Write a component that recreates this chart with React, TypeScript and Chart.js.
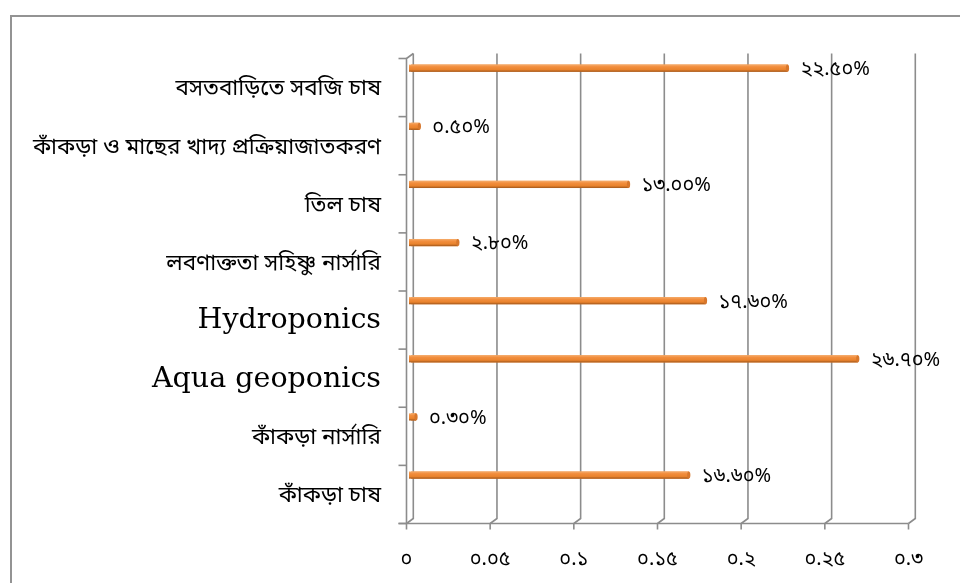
import React, { useEffect, useRef } from 'react';
import { Chart, registerables } from 'chart.js';
Chart.register(...registerables);

const categories = [
  'বসতবাড়িতে সবজি চাষ',
  'কাঁকড়া ও মাছের খাদ্য প্রক্রিয়াজাতকরণ',
  'তিল চাষ',
  'লবণাক্ততা সহিষ্ণু নার্সারি',
  'Hydroponics',
  'Aqua geoponics',
  'কাঁকড়া নার্সারি',
  'কাঁকড়া চাষ',
];
const values = [0.225, 0.005, 0.13, 0.028, 0.176, 0.267, 0.003, 0.166];
const valueLabels = ['২২.৫০%', '০.৫০%', '১৩.০০%', '২.৮০%', '১৭.৬০%', '২৬.৭০%', '০.৩০%', '১৬.৬০%'];
const xTickLabels = ['০', '০.০৫', '০.১', '০.১৫', '০.২', '০.২৫', '০.৩'];
const xMin = 0;
const xMax = 0.3;
const xStep = 0.05;

const BN_FONT = '"Noto Sans Bengali", "Lohit Bengali", "Noto Serif Bengali", Vrinda, serif';
const LATIN_FONT = '"DejaVu Serif", serif';
const FX = -4.5; // front plane x offset
const BX = 2.3; // back plane x offset
const BY = -5; // back plane y offset
const LINE = '#8c8c8c';

const isLatin = (s: string) => /^[A-Za-z ]+$/.test(s);

const framePlugin = {
  id: 'frame3d',
  beforeDatasetsDraw(chart: any) {
    const { ctx, chartArea } = chart;
    const xs = chart.scales.x;
    const top = chartArea.top;
    const bottom = chartArea.bottom;
    ctx.save();
    // outer border
    ctx.strokeStyle = '#939393';
    ctx.lineWidth = 2;
    ctx.strokeRect(11, 16, 1200, 1200);

    ctx.strokeStyle = LINE;
    ctx.lineWidth = 1.6;
    const ticks = xs.ticks;
    ticks.forEach((t: any) => {
      const p = xs.getPixelForValue(t.value);
      ctx.beginPath();
      ctx.moveTo(p + BX, top + BY);
      ctx.lineTo(p + BX, bottom + BY);
      ctx.lineTo(p + FX, bottom);
      ctx.stroke();
    });
    const p0 = xs.getPixelForValue(xMin);
    const pN = xs.getPixelForValue(xMax);
    ctx.beginPath();
    ctx.moveTo(p0 + FX - 8, bottom);
    ctx.lineTo(pN + FX, bottom);
    ctx.stroke();
    ctx.beginPath();
    ctx.moveTo(p0 + FX, bottom);
    ctx.lineTo(p0 + FX, top);
    ctx.lineTo(p0 + BX, top + BY);
    ctx.stroke();
    ticks.forEach((t: any) => {
      const p = xs.getPixelForValue(t.value);
      ctx.beginPath();
      ctx.moveTo(p + FX, bottom);
      ctx.lineTo(p + FX, bottom + 6);
      ctx.stroke();
    });
    const band = (bottom - top) / categories.length;
    for (let i = 0; i <= categories.length; i++) {
      const y = top + i * band;
      ctx.beginPath();
      ctx.moveTo(p0 + FX - 8, y);
      ctx.lineTo(p0 + FX, y);
      ctx.stroke();
    }
    ctx.restore();
  },
  afterDatasetsDraw(chart: any) {
    const { ctx } = chart;
    const meta = chart.getDatasetMeta(0);
    ctx.save();
    meta.data.forEach((el: any, i: number) => {
      const { x, y, base, height } = el.getProps(['x', 'y', 'base', 'height'], true);
      const t = y - height / 2;
      const g = ctx.createLinearGradient(0, t, 0, t + height);
      g.addColorStop(0, '#f5ad6d');
      g.addColorStop(0.3, '#f28e3e');
      g.addColorStop(0.7, '#e9832d');
      g.addColorStop(1, '#a0561b');
      ctx.fillStyle = g;
      ctx.fillRect(base - 2, t, x - base + 2, height);
      ctx.fillStyle = '#d7772c';
      ctx.beginPath();
      ctx.ellipse(x, y, 1.6, height / 2, 0, 0, Math.PI * 2);
      ctx.fill();
      ctx.fillStyle = '#000';
      ctx.font = `20px ${BN_FONT}`;
      ctx.textAlign = 'left';
      ctx.textBaseline = 'middle';
      ctx.fillText(valueLabels[i], x + 13, y + 3);
    });
    ctx.restore();
  },
};

export default function App() {
  const ref = useRef<HTMLCanvasElement | null>(null);
  useEffect(() => {
    if (!ref.current) return;
    const empty = categories.map(() => null);
    const chart = new Chart(ref.current, {
      type: 'bar',
      data: {
        labels: categories,
        datasets: [
          { data: values, backgroundColor: '#ef8b3b', borderWidth: 0 },
          { data: empty as any, backgroundColor: 'rgba(0,0,0,0)' },
          { data: empty as any, backgroundColor: 'rgba(0,0,0,0)' },
        ],
      },
      options: {
        indexAxis: 'y',
        animation: false,
        responsive: false,
        maintainAspectRatio: false,
        layout: { padding: { top: 58.5, right: 47, left: 0, bottom: 0 } },
        datasets: { bar: { categoryPercentage: 1, barPercentage: 0.37 } },
        plugins: { legend: { display: false }, tooltip: { enabled: false } },
        scales: {
          x: {
            type: 'linear',
            min: xMin,
            max: xMax,
            grid: { display: false, drawTicks: false },
            border: { display: false },
            ticks: {
              stepSize: xStep,
              padding: 26,
              labelOffset: FX,
              color: '#000',
              font: { family: BN_FONT, size: 20 },
              callback: (_v: any, i: number) => xTickLabels[i],
            },
            afterFit: (s: any) => { s.height = 59.5; },
          },
          y: {
            type: 'category',
            offset: true,
            grid: { display: false, drawTicks: false },
            border: { display: false },
            ticks: {
              padding: 30,
              labelOffset: 1,
              color: '#000',
              autoSkip: false,
              callback: (_v: any, i: number) => {
                const label = categories[i];
                return isLatin(label) ? label : ['', label];
              },
              font: (c: any) => {
                const label = categories[c.index] || '';
                return isLatin(label)
                  ? { family: LATIN_FONT, size: 28.5 }
                  : { family: BN_FONT, size: 22.5, lineHeight: '5px' };
              },
            },
            afterFit: (s: any) => { s.width = 411; },
          },
        },
      },
      plugins: [framePlugin],
    });
    return () => chart.destroy();
  }, []);
  return (
    <div style={{ position: 'fixed', left: 0, top: 0, width: 960, height: 583, background: '#fff' }}>
      <canvas ref={ref} width={960} height={583} style={{ width: 960, height: 583 }} />
    </div>
  );
}
